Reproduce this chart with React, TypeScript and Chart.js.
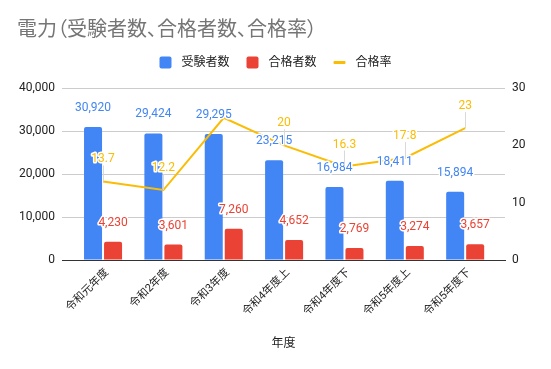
import React, { useEffect, useRef } from "react";
import { Chart, registerables } from "chart.js";

Chart.register(...registerables);

const categories = ["令和元年度", "令和2年度", "令和3年度", "令和4年度上", "令和4年度下", "令和5年度上", "令和5年度下"];
const applicants = [30920, 29424, 29295, 23215, 16984, 18411, 15894];
const passers = [4230, 3601, 7260, 4652, 2769, 3274, 3657];
const passRate = [13.7, 12.2, 24.8, 20, 16.3, 17.8, 23];
const hiddenRateLabels = [2];
const leftTicks = [0, 10000, 20000, 30000, 40000];
const rightTicks = [0, 10, 20, 30];

const TITLE = "電力（受験者数、合格者数、合格率）";
const X_TITLE = "年度";
const BLUE = "#4285F4";
const RED = "#EA4335";
const YELLOW = "#FBBC04";
const FONT = "Roboto, 'Noto Sans CJK JP', sans-serif";

const fmt = (v: number) => v.toLocaleString("en-US");

const decorPlugin = {
  id: "decor",
  afterDatasetsDraw(chart: any) {
    const ctx = chart.ctx;
    ctx.save();
    ctx.font = `12px ${FONT}`;
    ctx.textAlign = "center";
    ctx.textBaseline = "middle";
    ctx.lineJoin = "round";
    chart.data.datasets.forEach((ds: any, di: number) => {
      const meta = chart.getDatasetMeta(di);
      meta.data.forEach((el: any, i: number) => {
        const v = ds.data[i].y;
        if (ds.type === "line") {
          if (hiddenRateLabels.includes(i)) return;
          const ly = el.y - 22;
          ctx.strokeStyle = "#d9d9d9";
          ctx.lineWidth = 1;
          ctx.beginPath();
          ctx.moveTo(Math.round(el.x) + 0.5, ly + 6);
          ctx.lineTo(Math.round(el.x) + 0.5, el.y);
          ctx.stroke();
          const t = String(v);
          ctx.strokeStyle = "#fff";
          ctx.lineWidth = 3;
          ctx.strokeText(t, el.x, ly);
          ctx.fillStyle = YELLOW;
          ctx.fillText(t, el.x, ly);
        } else {
          const ly = el.y - 19;
          const t = fmt(v);
          ctx.strokeStyle = "#fff";
          ctx.lineWidth = 3;
          ctx.strokeText(t, el.x, ly);
          ctx.fillStyle = ds.backgroundColor;
          ctx.fillText(t, el.x, ly);
        }
      });
    });
    ctx.restore();
  },
  afterDraw(chart: any) {
    const ctx = chart.ctx;
    const area = chart.chartArea;
    ctx.save();
    ctx.font = `12px ${FONT}`;
    ctx.textBaseline = "middle";
    const items = chart.data.datasets.map((ds: any) => ({
      label: ds.label,
      color: ds.type === "line" ? ds.borderColor : ds.backgroundColor,
      line: ds.type === "line",
      w: 12 + 10 + ctx.measureText(ds.label).width,
    }));
    const gap = 17;
    const total = items.reduce((s: number, it: any) => s + it.w, 0) + gap * (items.length - 1);
    let x = chart.width / 2 - total / 2;
    const cy = 62.5;
    items.forEach((it: any) => {
      ctx.fillStyle = it.color;
      ctx.beginPath();
      if (it.line) {
        ctx.roundRect(x, cy - 1.5, 12, 3, 1);
      } else {
        ctx.roundRect(x, cy - 6, 12, 12, 2);
      }
      ctx.fill();
      ctx.fillStyle = "#222";
      ctx.textAlign = "left";
      ctx.fillText(it.label, x + 22, cy);
      x += it.w + gap;
    });
    ctx.textAlign = "center";
    ctx.fillStyle = "#222";
    ctx.fillText(X_TITLE, (area.left + area.right) / 2, 344);
    ctx.restore();
  },
};

export default function App() {
  const ref = useRef<HTMLCanvasElement>(null);
  useEffect(() => {
    if (!ref.current) return;
    const chart = new Chart(ref.current, {
      type: "bar",
      data: {
        datasets: [
          {
            type: "bar",
            label: "受験者数",
            data: applicants.map((v, i) => ({ x: i, y: v })),
            backgroundColor: BLUE,
            borderRadius: { topLeft: 2, topRight: 2 },
            categoryPercentage: 0.663,
            barPercentage: 0.9,
            yAxisID: "y",
            order: 1,
          },
          {
            type: "bar",
            label: "合格者数",
            data: passers.map((v, i) => ({ x: i, y: v })),
            backgroundColor: RED,
            borderRadius: { topLeft: 2, topRight: 2 },
            categoryPercentage: 0.663,
            barPercentage: 0.9,
            yAxisID: "y",
            order: 1,
          },
          {
            type: "line",
            label: "合格率",
            data: passRate.map((v, i) => ({ x: i, y: v })),
            borderColor: YELLOW,
            backgroundColor: YELLOW,
            borderWidth: 2,
            pointRadius: 0,
            yAxisID: "y1",
            order: 0,
          },
        ] as any,
      },
      options: {
        responsive: false,
        animation: false,
        layout: { padding: { top: 88, left: 0, right: 0, bottom: 0 } },
        plugins: {
          legend: { display: false },
          title: { display: false },
          tooltip: { enabled: false },
        },
        scales: {
          x: {
            type: "linear",
            offset: false,
            min: -0.68,
            max: 6.66,
            grid: { display: false, drawTicks: false, offset: false },
            border: { display: true, color: "#333", width: 1 },
            afterBuildTicks: (s: any) => {
              s.ticks = categories.map((_, i) => ({ value: i }));
            },
            afterFit: (s: any) => {
              s.height = 109;
            },
            ticks: {
              autoSkip: false,
              minRotation: 45,
              maxRotation: 45,
              padding: 6,
              labelOffset: 4,
              color: "#222",
              font: { family: FONT, size: 11 },
              callback: (v: any) => categories[v] ?? "",
            },
          },
          y: {
            position: "left",
            min: 0,
            max: 40000,
            grid: { color: "#cccccc", drawTicks: false },
            border: { display: false },
            afterBuildTicks: (s: any) => {
              s.ticks = leftTicks.map((v) => ({ value: v }));
            },
            afterFit: (s: any) => {
              s.width = 62;
            },
            ticks: {
              padding: 7,
              color: "#222",
              font: { family: FONT, size: 12 },
              callback: (v: any) => fmt(Number(v)),
            },
          },
          y1: {
            position: "right",
            min: 0,
            max: 30,
            grid: { display: false, drawTicks: false },
            border: { display: false },
            afterBuildTicks: (s: any) => {
              s.ticks = rightTicks.map((v) => ({ value: v }));
            },
            afterFit: (s: any) => {
              s.width = 46;
            },
            ticks: {
              padding: 7,
              color: "#222",
              font: { family: FONT, size: 12 },
            },
          },
        },
      } as any,
      plugins: [decorPlugin],
    });
    return () => chart.destroy();
  }, []);
  return (
    <div style={{ position: "absolute", left: 0, top: 0, width: 551, height: 369, background: "#fff" }}>
      <canvas ref={ref} width={551} height={369} style={{ display: "block" }} />
      <div
        style={{
          position: "absolute",
          left: 17,
          top: 19,
          fontFamily: FONT,
          fontSize: 20,
          lineHeight: "20px",
          color: "#757575",
          whiteSpace: "nowrap",
          fontFeatureSettings: '"palt"',
        }}
      >
        {TITLE}
      </div>
    </div>
  );
}
